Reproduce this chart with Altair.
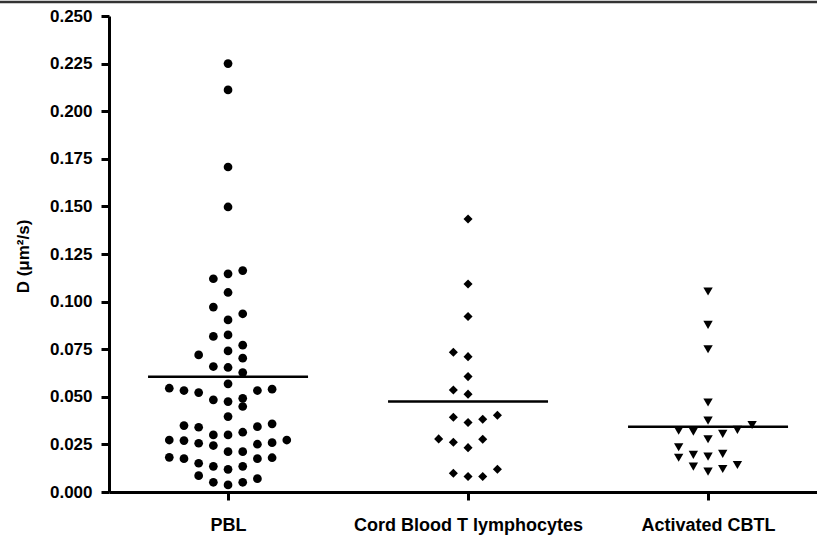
import altair as alt
import pandas as pd

categories = ["PBL", "Cord Blood T lymphocytes", "Activated CBTL"]
shapes = ["circle", "diamond", "triangle-down"]

pbl_values = [0.2250, 0.2112, 0.1707, 0.1497, 0.1163, 0.1146, 0.1120, 0.1048, 0.0971, 0.0936,
              0.0904, 0.0825, 0.0817, 0.0771, 0.0741, 0.0720, 0.0703, 0.0659, 0.0654, 0.0627,
              0.0568, 0.0545, 0.0533, 0.0522, 0.0533, 0.0540, 0.0492, 0.0484, 0.0475, 0.0449,
              0.0396, 0.0358, 0.0349, 0.0343, 0.0340, 0.0314, 0.0300, 0.0300, 0.0273, 0.0273,
              0.0270, 0.0259, 0.0256, 0.0251, 0.0244, 0.0212, 0.0212, 0.0182, 0.0180, 0.0175,
              0.0175, 0.0151, 0.0135, 0.0135, 0.0119, 0.0086, 0.0070, 0.0051, 0.0051, 0.0037]
pbl_slots = [0, 0, 0, 0, 1, 0, -1, 0, -1, 1,
             0, 0, -1, 1, 0, -2, 1, -1, 0, 1,
             0, -4, -3, -2, 2, 3, 1, -1, 0, 1,
             0, 3, -3, 2, -2, 1, -1, 0, -4, 4,
             -3, 3, -2, 2, -1, 0, 1, -4, 3, -3,
             2, -2, -1, 1, 0, -2, 2, -1, 1, 0]

cord_values = [0.1434, 0.1092, 0.0922, 0.0734, 0.0711, 0.0606, 0.0536, 0.0514, 0.0403, 0.0393,
               0.0382, 0.0365, 0.0279, 0.0277, 0.0261, 0.0233, 0.0119, 0.0098, 0.0081, 0.0081]
cord_slots = [0, 0, 0, -1, 0, 0, -1, 0, 2, -1,
              1, 0, -2, 1, -1, 0, 2, -1, 0, 1]

cbtl_values = [0.1053, 0.0878, 0.0750, 0.0470, 0.0375, 0.0352, 0.0326, 0.0322, 0.0317, 0.0305,
               0.0277, 0.0235, 0.0200, 0.0195, 0.0186, 0.0180, 0.0142, 0.0133, 0.0121, 0.0107]
cbtl_slots = [0, 0, 0, 0, 0, 3, 2, -2, -1, 1,
              0, -2, 1, -1, 0, -2, 2, -1, 1, 0]

mean_values = [0.0605, 0.0475, 0.0343]
y_ticks = [0.000, 0.025, 0.050, 0.075, 0.100, 0.125, 0.150, 0.175, 0.200, 0.225, 0.250]

SLOT = 0.0612      # horizontal spacing of swarm columns, in category units
HALF = 1.0 / 3.0   # half-width of mean line, in category units

rows = []
for ci, (vals, slots) in enumerate([(pbl_values, pbl_slots),
                                    (cord_values, cord_slots),
                                    (cbtl_values, cbtl_slots)]):
    for v, s in zip(vals, slots):
        rows.append({"group": categories[ci], "pos": ci + 1 + s * SLOT, "D": v})
points_df = pd.DataFrame(rows)

mean_df = pd.DataFrame({
    "group": categories,
    "x1": [i + 1 - HALF for i in range(3)],
    "x2": [i + 1 + HALF for i in range(3)],
    "mean": mean_values,
})

FONT = "Liberation Sans"
label_expr = " : ".join(
    f"datum.value == {i + 1} ? '{c}'" for i, c in enumerate(categories[:-1])
) + f" : '{categories[-1]}'"

x_scale = alt.Scale(domain=[0.504, 3.454], nice=False, zero=False)
y_scale = alt.Scale(domain=[0, 0.25], nice=False, zero=False)

x_axis = alt.Axis(values=[1, 2, 3], labelExpr=label_expr, title=None, grid=False,
                  domainWidth=3, domainColor="black", tickWidth=3, tickSize=8,
                  tickColor="black", labelFont=FONT, labelFontWeight="bold",
                  labelFontSize=18, labelPadding=16, labelColor="black",
                  labelFlush=False, labelOverlap=False, labelLimit=0)
y_axis = alt.Axis(values=y_ticks, format=".3f", title="D (μm²/s)", grid=False,
                  domainWidth=3, domainColor="black", tickWidth=3, tickSize=8,
                  tickColor="black", labelFont=FONT, labelFontWeight="bold",
                  labelFontSize=17, labelPadding=9, labelColor="black",
                  labelFlush=False, labelOverlap=False, labelLimit=0,
                  titleFont=FONT, titleFontWeight="bold", titleFontSize=17,
                  titleColor="black", titleAngle=270, titleX=-86, titleY=240,
                  titleAlign="center", titleBaseline="middle")

points = alt.Chart(points_df).mark_point(filled=True, opacity=1, color="black", strokeWidth=0).encode(
    x=alt.X("pos:Q", scale=x_scale, axis=x_axis),
    y=alt.Y("D:Q", scale=y_scale, axis=y_axis),
    shape=alt.Shape("group:N", scale=alt.Scale(domain=categories, range=shapes), legend=None),
    size=alt.Size("group:N", scale=alt.Scale(domain=categories, range=[76, 88, 120]), legend=None),
)

means = alt.Chart(mean_df).mark_rule(color="black", strokeWidth=2.5).encode(
    x=alt.X("x1:Q", scale=x_scale),
    x2="x2:Q",
    y=alt.Y("mean:Q", scale=y_scale),
)

top_border = alt.Chart(pd.DataFrame({"a": [0]})).mark_rule(color="#333333", strokeWidth=2.5).encode(
    x=alt.value(-109), x2=alt.value(708), y=alt.value(-14)
)

chart = alt.layer(means, points, top_border).properties(
    width=708, height=476,
    autosize=alt.AutoSizeParams(type="none"),
    padding={"left": 109, "top": 16, "right": 0, "bottom": 49},
    background="white",
).configure_view(strokeWidth=0)

chart.save("out.html", embed_options={"renderer": "svg", "actions": False})
